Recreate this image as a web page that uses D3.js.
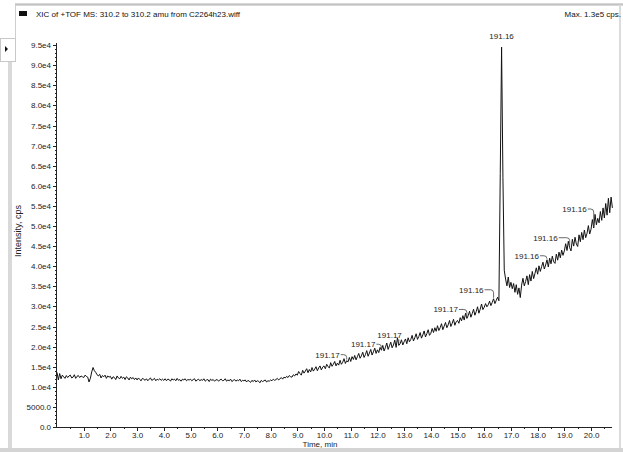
<!DOCTYPE html>
<html>
<head>
<meta charset="utf-8">
<script src="https://cdn.jsdelivr.net/npm/d3@7/dist/d3.min.js"></script>
<style>
  html, body { margin: 0; padding: 0; background: #fff; }
  svg { display: block; font-family: "Liberation Sans", Arial, sans-serif; }
</style>
</head>
<body>
<svg id="chart" width="623" height="452"></svg>
<script>
// XIC trace: one intensity (cps) per scan, scans every 0.05 min from 0.00 min
const scanStart = 0.0;
const scanStep = 0.05;
const intensity = [
  13600, 11700, 13300, 12000, 12900, 12500, 12100, 12800, 12300, 12700, 12900, 12200, 12400, 13000, 12100, 12600, 12800, 12300, 12700, 12500,
  12300, 12900, 12600, 12400, 11200, 12100, 13700, 14800, 14000, 13600, 13000, 12700, 13100, 12200, 12800, 12500, 12900, 12100, 12700, 12400,
  12600, 11900, 12500, 12300, 11800, 12700, 12200, 12000, 12600, 12100, 12400, 11800, 12500, 12200, 11700, 12400, 12000, 12300, 11800, 12200,
  11700, 12200, 11800, 11500, 12100, 11900, 11600, 12000, 11500, 11900, 12200, 11600, 11800, 12100, 11500, 11900, 11700, 12000, 11600, 11900,
  11600, 12000, 11500, 11900, 11800, 11400, 12000, 11700, 11900, 11500, 12100, 11600, 11800, 11400, 11900, 11700, 12000, 11500, 11800, 11700,
  11900, 11500, 11800, 12000, 11400, 11700, 11900, 11500, 11800, 11600, 12000, 11400, 11700, 11800, 11300, 11900, 11600, 11800, 11400, 11700,
  11800, 11400, 11700, 11900, 11500, 11600, 12000, 11400, 11700, 11500, 11900, 11300, 11600, 11800, 11400, 11700, 11500, 11900, 11300, 11600,
  11500, 11700, 11200, 11600, 11400, 11100, 11600, 11300, 11700, 11200, 11500, 11400, 11000, 11600, 11300, 11500, 11700, 11200, 11500, 11400,
  11700, 11500, 11900, 11600, 11800, 12100, 11700, 12000, 12300, 11900, 12400, 12200, 12600, 12300, 12800, 12500, 12400, 13000, 12700, 13200,
  12900, 13800, 13300, 12900, 14100, 13400, 13900, 14500, 13500, 14300, 13700, 14800, 13900, 14400, 15000, 14000, 14700, 15200, 14200, 14900,
  15200, 14500, 15600, 15000, 14700, 16000, 15100, 15600, 16300, 15200, 15900, 15400, 16600, 15600, 16100, 17000, 15800, 16500, 16200, 17300,
  16300, 17500, 16800, 17800, 16700, 17500, 18300, 17100, 17700, 18600, 17300, 18000, 19000, 17600, 18400, 19300, 17900, 18700, 19600, 18300,
  19200, 18500, 19800, 19100, 20300, 18900, 19800, 20900, 19300, 20200, 21100, 19700, 20400, 21600, 19800, 22200, 20300, 20700, 21700, 20400,
  21200, 21900, 20700, 22200, 21200, 21800, 22800, 21400, 22200, 23200, 21800, 22500, 23500, 22100, 22900, 23900, 22400, 23200, 24200, 22800,
  23300, 24500, 23500, 24700, 23800, 25200, 24000, 24700, 25700, 24200, 25100, 26000, 24700, 25400, 26500, 25000, 25800, 26800, 25300, 26200,
  26500, 25800, 27200, 26400, 27700, 26600, 28300, 27000, 27700, 28800, 27300, 28200, 29300, 27800, 28700, 29900, 28300, 29300, 30600, 29200,
  29800, 30700, 29900, 30400, 31300, 30200, 31000, 31900, 30700, 31500, 32300, 31400, 63000, 94500, 62000, 39000, 36800, 35100, 37300, 34700,
  36000, 34400, 35700, 33500, 35400, 33000, 34600, 32200, 35300, 37000, 35100, 36200, 37600, 35400, 37900, 36300, 38700, 36900, 38200, 39600,
  38000, 40100, 38700, 39900, 41000, 39300, 40300, 41600, 39800, 42000, 40600, 42500, 41100, 40700, 43000, 41500, 43500, 42100, 44000, 42700,
  43800, 45600, 43900, 46200, 44600, 43800, 46700, 45000, 47200, 45500, 44900, 47800, 46100, 48400, 46600, 49000, 47100, 48200, 50100, 48000,
  49200, 51600, 49500, 52900, 50300, 51900, 50800, 53600, 51400, 54500, 52000, 55600, 52700, 56900, 53300, 57200, 54500
];

// Labelled scans: retention time and the m/z shown beside each
const annoTimes = [10.85, 12.15, 12.80, 15.35, 16.35, 16.65, 18.35, 19.20, 20.10];
const annoLabels = ["191.17", "191.17", "191.17", "191.17", "191.16", "191.16", "191.16", "191.16", "191.16"];

// Axis ticks
const xTickValues = [1, 2, 3, 4, 5, 6, 7, 8, 9, 10, 11, 12, 13, 14, 15, 16, 17, 18, 19, 20];
const xTickLabels = ["1.0", "2.0", "3.0", "4.0", "5.0", "6.0", "7.0", "8.0", "9.0", "10.0",
                     "11.0", "12.0", "13.0", "14.0", "15.0", "16.0", "17.0", "18.0", "19.0", "20.0"];
const yTickValues = [0, 5000, 10000, 15000, 20000, 25000, 30000, 35000, 40000, 45000,
                     50000, 55000, 60000, 65000, 70000, 75000, 80000, 85000, 90000, 95000];
const yTickLabels = ["0.0", "5000.0", "1.0e4", "1.5e4", "2.0e4", "2.5e4", "3.0e4", "3.5e4", "4.0e4", "4.5e4",
                     "5.0e4", "5.5e4", "6.0e4", "6.5e4", "7.0e4", "7.5e4", "8.0e4", "8.5e4", "9.0e4", "9.5e4"];

const titleText = "XIC of +TOF MS: 310.2 to 310.2 amu from C2264h23.wiff";
const maxText = "Max. 1.3e5 cps.";
const xTitle = "Time, min";
const yTitle = "Intensity, cps";

// ---- layout ----
const W = 623, H = 452;
const plot = { left: 57, right: 612.4, top: 43.1, bottom: 427 };
// label placement relative to its scan point: [dx of text end, dy of baseline]
const annoOffsets = [[-7, -3], [-6, -3], [3, -7], [-9, -6], [-10, -6], [0, -8], [-8, -1], [-12, -7], [-7, -16]];

const svg = d3.select("#chart");

// window frame
svg.append("rect").attr("x", 0).attr("y", 0).attr("width", W).attr("height", H).attr("fill", "#fff");
svg.append("rect").attr("x", 15).attr("y", 3).attr("width", W - 15).attr("height", 3).attr("fill", "#d6d6d6");
svg.append("rect").attr("x", 15).attr("y", 4).attr("width", W - 15).attr("height", 1).attr("fill", "#c4c4c4");
svg.append("rect").attr("x", 619).attr("y", 5).attr("width", 2).attr("height", H - 5).attr("fill", "#dcdcdc");
svg.append("rect").attr("x", 8).attr("y", 62).attr("width", 4).attr("height", H - 62).attr("fill", "#d9d9d9");
svg.append("rect").attr("x", 0).attr("y", 448).attr("width", W).attr("height", 4).attr("fill", "#d4d4d4");
svg.append("line").attr("x1", 15.5).attr("x2", 15.5).attr("y1", 5).attr("y2", 38)
  .attr("stroke", "#cfcfcf").attr("stroke-width", 1);
// side toggle button
svg.append("rect").attr("x", 0.5).attr("y", 38.5).attr("width", 15).attr("height", 23)
  .attr("fill", "#fff").attr("stroke", "#c8c8c8");
svg.append("path").attr("d", "M5,46 L8,49 L5,52 Z").attr("fill", "#111");

// header
svg.append("rect").attr("x", 19).attr("y", 11).attr("width", 8).attr("height", 5).attr("fill", "#111");
svg.append("text").attr("x", 36).attr("y", 17).attr("font-size", 8).attr("fill", "#111").text(titleText);
svg.append("text").attr("x", 621).attr("y", 17).attr("font-size", 8).attr("fill", "#111")
  .attr("text-anchor", "end").text(maxText);

// scales
const x = d3.scaleLinear().domain([0, 20.8]).range([plot.left, plot.right]);
const y = d3.scaleLinear().domain([0, 95500]).range([plot.bottom, plot.top]);

const times = intensity.map((v, i) => scanStart + i * scanStep);
const points = intensity.map((v, i) => [times[i], v]);

// axes
const xMinor = d3.range(0.5, 20.8, 0.5);
const xMinorAxis = d3.axisBottom(x).tickValues(xMinor).tickSize(2).tickFormat("");
const gxm = svg.append("g").attr("transform", `translate(0,${plot.bottom})`).call(xMinorAxis);
gxm.select(".domain").remove();

const xAxis = d3.axisBottom(x).tickValues(xTickValues).tickSize(4).tickPadding(1)
  .tickFormat((d, i) => xTickLabels[i]);
const gx = svg.append("g").attr("transform", `translate(0,${plot.bottom})`).call(xAxis);
gx.select(".domain").attr("d", `M${plot.left},0.5H${plot.right}`);

const yMinor = d3.range(1000, 95500, 1000);
const yMinorAxis = d3.axisLeft(y).tickValues(yMinor).tickSize(2).tickFormat("");
const gym = svg.append("g").attr("transform", `translate(${plot.left},0)`).call(yMinorAxis);
gym.select(".domain").remove();

const yAxis = d3.axisLeft(y).tickValues(yTickValues).tickSize(4).tickPadding(2)
  .tickFormat((d, i) => yTickLabels[i]);
const gy = svg.append("g").attr("transform", `translate(${plot.left},0)`).call(yAxis);
gy.select(".domain").attr("d", `M-0.5,${plot.top}V${plot.bottom}`);

[gx, gy, gxm, gym].forEach(g => {
  g.selectAll("line").attr("stroke", "#222").attr("shape-rendering", "crispEdges");
  g.selectAll(".domain").attr("stroke", "#222").attr("shape-rendering", "crispEdges");
  g.selectAll("text").attr("font-size", 8).attr("fill", "#222")
    .attr("font-family", "'Liberation Sans', Arial, sans-serif");
});

// axis titles
svg.append("text").attr("x", 320).attr("y", 447).attr("font-size", 8).attr("fill", "#222")
  .attr("text-anchor", "middle").text(xTitle);
svg.append("text").attr("transform", "translate(21,231) rotate(-90)").attr("font-size", 9)
  .attr("fill", "#222").attr("text-anchor", "middle").text(yTitle);

// trace
const line = d3.line().x(d => x(d[0])).y(d => y(d[1]));
svg.append("path").datum(points).attr("d", line)
  .attr("fill", "none").attr("stroke", "#111").attr("stroke-width", 1)
  .attr("stroke-linejoin", "miter");

// scan labels with leaders
annoTimes.forEach((t, i) => {
  const idx = Math.round((t - scanStart) / scanStep);
  const px = x(times[idx]);
  const py = y(intensity[idx]);
  const [dx, dy] = annoOffsets[i];
  const ty = py + dy;
  if (dx === 0) {
    svg.append("text").attr("x", px).attr("y", ty).attr("font-size", 8).attr("fill", "#222")
      .attr("text-anchor", "middle").text(annoLabels[i]);
    return;
  }
  const tx = px + dx;
  svg.append("text").attr("x", tx).attr("y", ty).attr("font-size", 8).attr("fill", "#222")
    .attr("text-anchor", "end").text(annoLabels[i]);
  let d;
  if (dx > 0) {
    d = `M${px},${ty + 1}V${py - 1}`;
  } else {
    const ly = ty - 3;
    d = `M${tx + 1},${ly}H${px - 3}Q${px},${ly} ${px},${Math.min(ly + 3, py - 1)}V${py - 1}`;
  }
  svg.append("path").attr("d", d).attr("fill", "none").attr("stroke", "#444").attr("stroke-width", 0.8);
});
</script>
</body>
</html>
